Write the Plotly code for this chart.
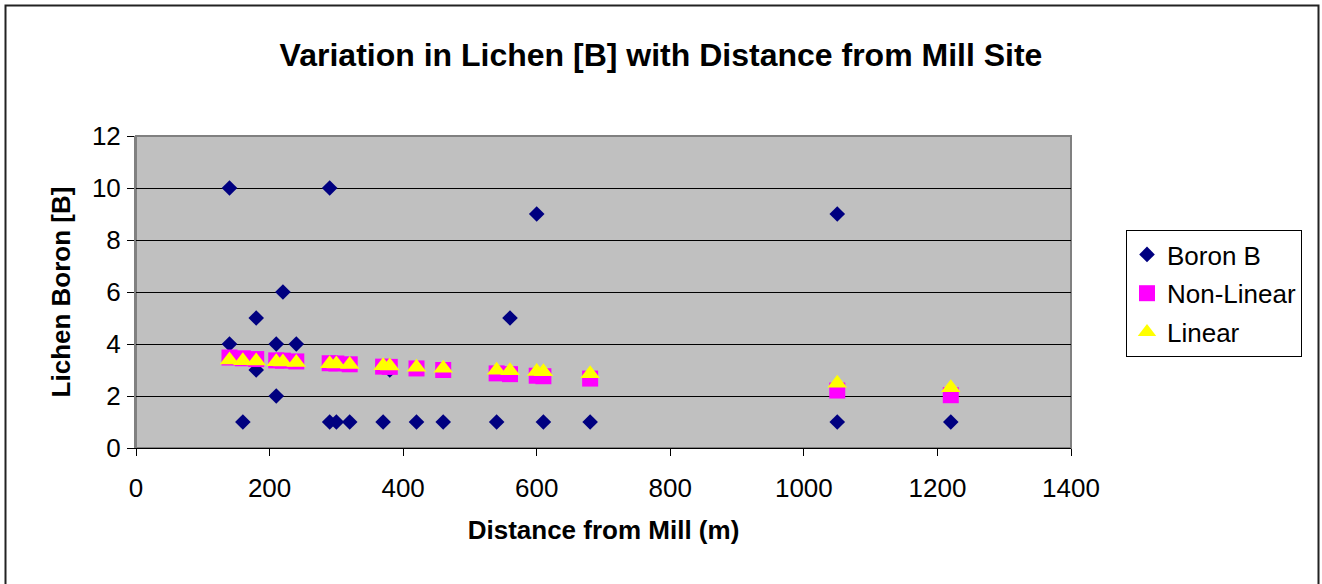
import plotly.graph_objects as go

# Observed lichen boron values
distance_boron = [140, 140, 160, 180, 180, 210, 210, 220, 240, 290, 290, 300, 320,
                  370, 380, 420, 460, 540, 560, 600, 610, 680, 1050, 1050, 1220]
boron_b = [10, 4, 1, 5, 3, 4, 2, 6, 4, 10, 1, 1, 1,
           1, 3, 1, 1, 1, 5, 9, 1, 1, 9, 1, 1]

# Fitted model values
distance_fit = [140, 160, 180, 210, 220, 240, 290, 300, 320, 370, 380, 420, 460,
                540, 560, 600, 610, 680, 1050, 1220]
non_linear = [3.48, 3.45, 3.42, 3.37, 3.36, 3.33, 3.26, 3.25, 3.22, 3.13, 3.12, 3.06, 3.00,
              2.87, 2.84, 2.78, 2.76, 2.67, 2.21, 2.03]
linear = [3.38, 3.36, 3.35, 3.32, 3.31, 3.29, 3.24, 3.23, 3.21, 3.16, 3.15, 3.11, 3.07,
          2.99, 2.97, 2.94, 2.93, 2.86, 2.49, 2.32]

x_ticks = [0, 200, 400, 600, 800, 1000, 1200, 1400]
y_ticks = [0, 2, 4, 6, 8, 10, 12]

FONT = "Arial, 'Liberation Sans', sans-serif"

fig = go.Figure()
fig.add_trace(go.Scatter(x=distance_boron, y=boron_b, mode="markers", name="Boron B",
                         legendgroup="a",
                         marker=dict(symbol="diamond", size=12, color="#000080",
                                     line=dict(width=0))))
fig.add_trace(go.Scatter(x=distance_fit, y=non_linear, mode="markers", name="Non-Linear",
                         legendgroup="b",
                         marker=dict(symbol="square", size=16, color="#FF00FF",
                                     line=dict(width=0))))
fig.add_trace(go.Scatter(x=distance_fit, y=linear, mode="markers", name="Linear",
                         legendgroup="c",
                         marker=dict(symbol="triangle-up", size=17, color="#FFFF00",
                                     line=dict(width=0))))

L, R, T, B = 136, 251, 136, 136
W, H = 1322, 584
pw, ph = W - L - R, H - T - B

def px_x(p):
    return (p - L) / pw

def px_y(p):
    return (H - B - p) / ph

fig.update_layout(
    width=W, height=H, autosize=False,
    margin=dict(l=L, r=R, t=T, b=B),
    paper_bgcolor="white",
    plot_bgcolor="#C0C0C0",
    font=dict(family=FONT, size=26, color="black"),
    title=dict(text="Variation in Lichen [B] with Distance from Mill Site",
               font=dict(family=FONT, size=32, color="black", weight="bold"),
               x=0.5, xref="container", xanchor="center",
               y=1 - 55 / H, yref="container", yanchor="middle"),
    xaxis=dict(range=[0, 1400], tickvals=x_ticks, showgrid=False, zeroline=False,
               showline=True, linecolor="black", linewidth=1,
               ticks="outside", ticklen=7, tickcolor="black", ticklabelstandoff=10,
               tickfont=dict(family=FONT, size=26, color="black"),
               title=dict(text="Distance from Mill (m)",
                          font=dict(family=FONT, size=26, color="black", weight="bold"),
                          standoff=18)),
    yaxis=dict(range=[0, 12], tickvals=y_ticks, showgrid=True, gridcolor="black",
               gridwidth=1, zeroline=False,
               showline=True, linecolor="#808080", linewidth=2,
               ticks="outside", ticklen=7, tickcolor="black", ticklabelstandoff=1,
               tickfont=dict(family=FONT, size=26, color="black"),
               title=dict(text="Lichen Boron [B]",
                          font=dict(family=FONT, size=26, color="black", weight="bold"),
                          standoff=14)),
    legend=dict(x=px_x(1126), y=px_y(230), xanchor="left", yanchor="top",
                bgcolor="white", bordercolor="black", borderwidth=1,
                font=dict(family=FONT, size=26, color="black"),
                traceorder="grouped", tracegroupgap=2),
    showlegend=True,
)

# plot area border (gray) and outer chart border
fig.add_shape(type="rect", xref="paper", yref="paper", x0=0, y0=0, x1=1, y1=1,
              line=dict(color="#808080", width=2), layer="below")
fig.add_shape(type="rect", xref="paper", yref="paper",
              x0=px_x(5.5), x1=px_x(1318.5), y0=px_y(595), y1=px_y(5.5),
              line=dict(color="#222222", width=2), layer="below")

fig.write_html("out.html")
